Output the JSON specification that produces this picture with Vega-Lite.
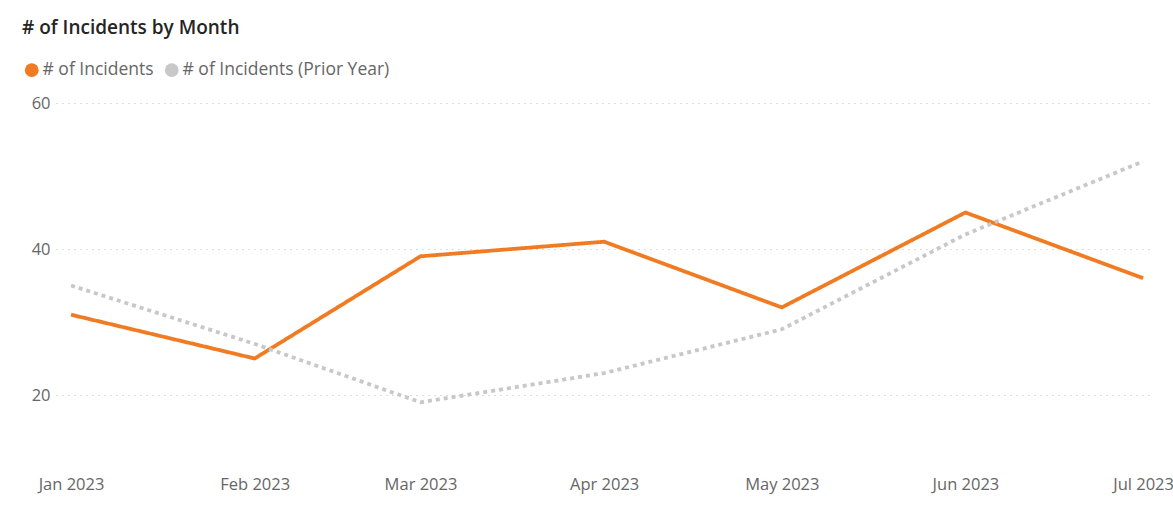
{
  "$schema": "https://vega.github.io/schema/vega-lite/v6.json",
  "autosize": {"type": "none"},
  "width": 1096,
  "height": 365,
  "padding": {"left": 56, "top": 103, "right": 21, "bottom": 40},
  "background": "white",
  "title": {
    "text": "# of Incidents by Month",
    "anchor": "start",
    "frame": "group",
    "font": "Open Sans",
    "fontSize": 19,
    "fontWeight": 600,
    "color": "#252423",
    "dx": -34,
    "dy": -23,
    "offset": 0
  },
  "data": {
    "values": [
      {"month": "2023-01-01", "series": "# of Incidents", "value": 31},
      {"month": "2023-02-01", "series": "# of Incidents", "value": 25},
      {"month": "2023-03-01", "series": "# of Incidents", "value": 39},
      {"month": "2023-04-01", "series": "# of Incidents", "value": 41},
      {"month": "2023-05-01", "series": "# of Incidents", "value": 32},
      {"month": "2023-06-01", "series": "# of Incidents", "value": 45},
      {"month": "2023-07-01", "series": "# of Incidents", "value": 36},
      {"month": "2023-01-01", "series": "# of Incidents (Prior Year)", "value": 35},
      {"month": "2023-02-01", "series": "# of Incidents (Prior Year)", "value": 27},
      {"month": "2023-03-01", "series": "# of Incidents (Prior Year)", "value": 19},
      {"month": "2023-04-01", "series": "# of Incidents (Prior Year)", "value": 23},
      {"month": "2023-05-01", "series": "# of Incidents (Prior Year)", "value": 29},
      {"month": "2023-06-01", "series": "# of Incidents (Prior Year)", "value": 42},
      {"month": "2023-07-01", "series": "# of Incidents (Prior Year)", "value": 52}
    ]
  },
  "mark": {"type": "line", "strokeWidth": 3.8, "strokeJoin": "miter"},
  "encoding": {
    "x": {
      "field": "month",
      "type": "temporal",
      "scale": {
        "type": "utc",
        "domain": [
          {"year": 2022, "month": 12, "date": 29, "hours": 11, "utc": true},
          {"year": 2023, "month": 7, "date": 2, "hours": 12, "utc": true}
        ]
      },
      "axis": {
        "title": null,
        "format": "%b %Y",
        "tickCount": {"interval": "month", "step": 1},
        "domain": false,
        "ticks": false,
        "grid": false,
        "labelFont": "Open Sans",
        "labelFontSize": 16.5,
        "labelColor": "#666666",
        "labelPadding": 8,
        "labelFlush": false,
        "labelOverlap": false
      }
    },
    "y": {
      "field": "value",
      "type": "quantitative",
      "scale": {"domain": [10, 60], "nice": false, "zero": false},
      "axis": {
        "title": null,
        "values": [20, 40, 60],
        "domain": false,
        "ticks": false,
        "grid": true,
        "gridColor": "#bdbdbd",
        "gridDash": [1, 5],
        "gridWidth": 1,
        "labelFont": "Open Sans",
        "labelFontSize": 16.5,
        "labelColor": "#666666",
        "labelPadding": 6
      }
    },
    "color": {
      "field": "series",
      "type": "nominal",
      "scale": {
        "domain": ["# of Incidents", "# of Incidents (Prior Year)"],
        "range": ["#F07B22", "#C8C8C8"]
      },
      "legend": {
        "title": null,
        "orient": "none",
        "legendX": -33,
        "legendY": -42,
        "direction": "horizontal",
        "symbolType": "circle",
        "symbolSize": 190,
        "labelFont": "Open Sans",
        "labelFontSize": 17.5,
        "labelColor": "#666666",
        "labelOffset": 2,
        "columnPadding": 9,
        "labelLimit": 400,
        "encode": {
          "symbols": {
            "update": {
              "fill": {"scale": "color", "field": "value"},
              "fillOpacity": {"value": 1},
              "strokeWidth": {"value": 0},
              "strokeDash": {"value": [1, 0]},
              "opacity": {"value": 1}
            }
          }
        }
      }
    },
    "strokeDash": {
      "field": "series",
      "type": "nominal",
      "scale": {
        "domain": ["# of Incidents", "# of Incidents (Prior Year)"],
        "range": [[1, 0], [4, 4]]
      },
      "legend": null
    }
  },
  "config": {"view": {"stroke": null}}
}
